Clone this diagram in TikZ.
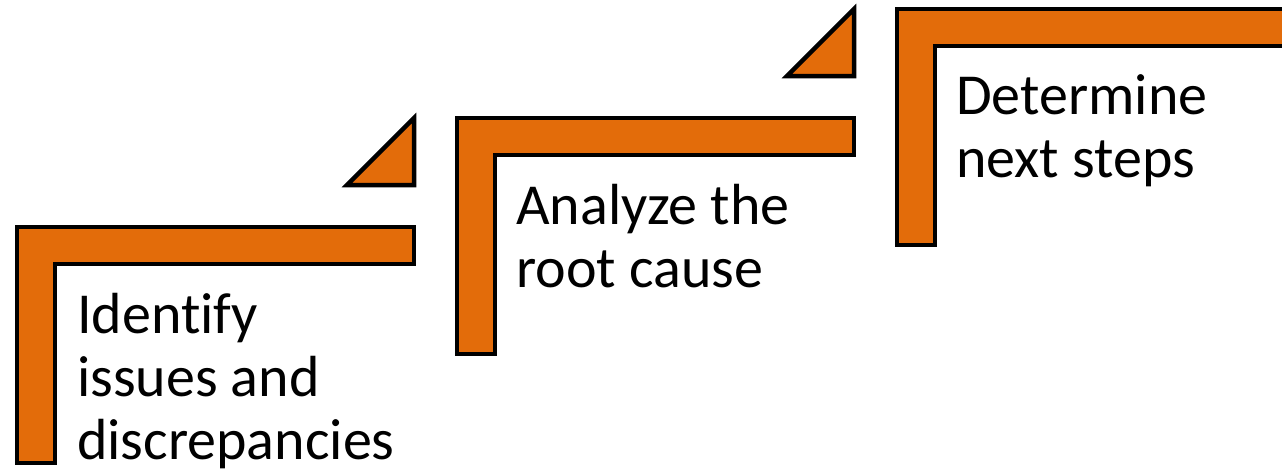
\documentclass[tikz,border=0pt]{standalone}
\usepackage{fontspec}
\setmainfont{Carlito}[Ligatures=NoCommon]
\definecolor{stepfill}{HTML}{E36C0A}
\begin{document}
\begin{tikzpicture}[x=1pt,y=-1pt,
  stair/.style={draw=black,line width=4.5pt,fill=stepfill},
  steptext/.style={anchor=base west,inner sep=0pt,align=left,
    font=\fontsize{58}{63}\selectfont}]
\useasboundingbox (0,0) rectangle (1282,471);
\clip (0,0) rectangle (1282,471);
% L-shaped steps: top bar 37 thick, upright 38 wide
\draw[stair] (17,227) -- (414,227) -- (414,264) -- (55,264) -- (55,463) -- (17,463) -- cycle;
\draw[stair] (457,118) -- (854,118) -- (854,155) -- (495,155) -- (495,354) -- (457,354) -- cycle;
\draw[stair] (897,9) -- (1294,9) -- (1294,46) -- (935,46) -- (935,245) -- (897,245) -- cycle;
% small wedges above the ends of the lower steps
\draw[stair] (347,185) -- (414,118) -- (414,185) -- cycle;
\draw[stair] (787,76) -- (854,9) -- (854,76) -- cycle;
% step captions (anchored at the baseline of the last line)
\node[steptext] (s1) at (77,459) {Identify\\issues and\\discrepancies};
\node[steptext] (s2) at (516,287) {Analyze the\\root cause};
\node[steptext] (s3) at (956,177) {Determine\\next steps};
\end{tikzpicture}
\end{document}
